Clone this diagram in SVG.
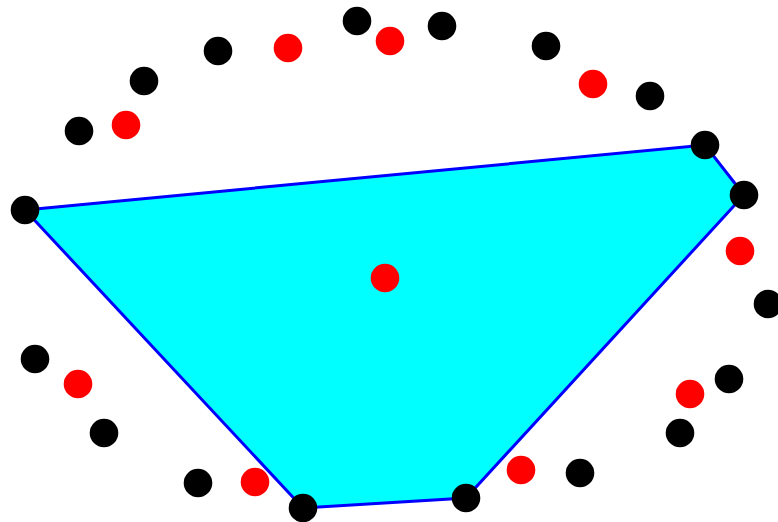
<svg xmlns="http://www.w3.org/2000/svg" width="778" height="522" viewBox="0 0 778 522">
<style>
.hull{fill:#00ffff;stroke:#0000ff;stroke-width:3;stroke-linejoin:miter}
.b{fill:#000000}
.r{fill:#ff0000}
</style>
<rect width="778" height="522" fill="#ffffff"/>
<g id="hull">
<polygon class="hull" points="25,210 705,145 744,195 466,498 303,508"/>
</g>
<g id="black-points">
<circle class="b" cx="357" cy="21" r="14.3"/>
<circle class="b" cx="442" cy="26" r="14.3"/>
<circle class="b" cx="218" cy="51" r="14.3"/>
<circle class="b" cx="144" cy="81" r="14.3"/>
<circle class="b" cx="79" cy="131" r="14.3"/>
<circle class="b" cx="546" cy="46" r="14.3"/>
<circle class="b" cx="650" cy="96" r="14.3"/>
<circle class="b" cx="705" cy="145" r="14.3"/>
<circle class="b" cx="744" cy="195" r="14.3"/>
<circle class="b" cx="25" cy="210" r="14.3"/>
<circle class="b" cx="768" cy="304" r="14.3"/>
<circle class="b" cx="35" cy="359" r="14.3"/>
<circle class="b" cx="729" cy="379" r="14.3"/>
<circle class="b" cx="104" cy="433" r="14.3"/>
<circle class="b" cx="680" cy="433" r="14.3"/>
<circle class="b" cx="198" cy="483" r="14.3"/>
<circle class="b" cx="580" cy="473" r="14.3"/>
<circle class="b" cx="466" cy="498" r="14.3"/>
<circle class="b" cx="303" cy="508" r="14.3"/>
</g>
<g id="red-points">
<circle class="r" cx="288" cy="48" r="14.3"/>
<circle class="r" cx="390" cy="41" r="14.3"/>
<circle class="r" cx="126" cy="125" r="14.3"/>
<circle class="r" cx="593" cy="84" r="14.3"/>
<circle class="r" cx="740" cy="251" r="14.3"/>
<circle class="r" cx="385" cy="278" r="14.3"/>
<circle class="r" cx="78" cy="384" r="14.3"/>
<circle class="r" cx="690" cy="394" r="14.3"/>
<circle class="r" cx="521" cy="470" r="14.3"/>
<circle class="r" cx="255" cy="482" r="14.3"/>
</g>
</svg>
